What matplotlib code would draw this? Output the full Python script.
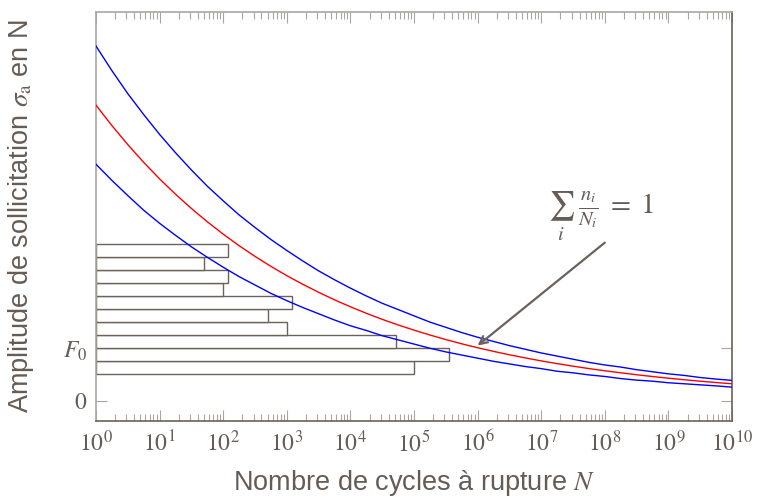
import numpy as np
import matplotlib.pyplot as plt
from matplotlib.ticker import LogLocator, NullFormatter, FixedLocator

plt.rcParams['mathtext.fontset'] = 'stix'
plt.rcParams['font.family'] = ['Liberation Sans', 'DejaVu Sans']

text_col = '#655c55'
dark_col = '#6b625a'
light_col = '#aaa5a0'

# Wöhler curves, every quarter decade from 10^0 to 10^10
decades = [i / 4 for i in range(41)]
red_curve = [5.650, 5.259, 4.895, 4.556, 4.240, 3.947, 3.674, 3.419, 3.183, 2.962,
             2.757, 2.566, 2.389, 2.224, 2.070, 1.926, 1.793, 1.669, 1.553, 1.446,
             1.346, 1.253, 1.166, 1.085, 1.010, 0.940, 0.875, 0.815, 0.758, 0.706,
             0.657, 0.611, 0.569, 0.530, 0.493, 0.459, 0.427, 0.397, 0.370, 0.344,
             0.320]
blue_upper = [6.78, 6.31, 5.87, 5.47, 5.09, 4.74, 4.41, 4.10, 3.82, 3.55,
              3.31, 3.08, 2.87, 2.67, 2.48, 2.31, 2.15, 2.00, 1.86, 1.74,
              1.62, 1.50, 1.40, 1.30, 1.21, 1.13, 1.05, 0.98, 0.91, 0.85,
              0.79, 0.73, 0.68, 0.64, 0.59, 0.55, 0.51, 0.48, 0.44, 0.41,
              0.385]
blue_lower = [4.52, 4.21, 3.92, 3.64, 3.39, 3.16, 2.94, 2.74, 2.55, 2.37,
              2.21, 2.05, 1.91, 1.78, 1.66, 1.54, 1.43, 1.34, 1.24, 1.16,
              1.08, 1.00, 0.93, 0.87, 0.81, 0.75, 0.70, 0.65, 0.61, 0.56,
              0.53, 0.49, 0.46, 0.42, 0.39, 0.37, 0.34, 0.32, 0.30, 0.28,
              0.256]

# load blocks (bottom to top): level and number of cycles
bar_levels = [0.625, 0.875, 1.125, 1.375, 1.625, 1.875, 2.125, 2.375, 2.625, 2.875]
bar_cycles = [100000, 360000, 52000, 1000, 500, 1200, 100, 119, 50, 119]
bar_height = 0.25

xticks = [1, 1e1, 1e2, 1e3, 1e4, 1e5, 1e6, 1e7, 1e8, 1e9, 1e10]
xticklabels = ['$10^{%d}$' % i for i in range(11)]
yticks = [0, 1]
yticklabels = ['$0$', '$F_0$']

fig = plt.figure(figsize=(7.57, 5.03), dpi=100)
ax = fig.add_axes([0.1268, 0.163, 0.8402, 0.813])

N = [10 ** d for d in decades]

ax.barh(bar_levels, [c - 1 for c in bar_cycles], height=bar_height, left=1,
        color='white', edgecolor=dark_col, linewidth=1.0, zorder=2)

ax.plot(N, blue_upper, color='#0000ff', lw=1.0, zorder=3)
ax.plot(N, red_curve, color='#ff0000', lw=1.0, zorder=3)
ax.plot(N, blue_lower, color='#0000ff', lw=1.0, zorder=3)

ax.annotate('', xy=(1.0e6, 1.05), xytext=(1e8, 3.02),
            arrowprops=dict(arrowstyle='->', color=dark_col, lw=1.6,
                            shrinkA=0, shrinkB=0, mutation_scale=14), zorder=4)
ax.text(1.3e7, 3.57, r'$\sum_i\ \frac{n_i}{N_i}\;=\;1$', fontsize=21,
        color=text_col, ha='left', va='baseline')

ax.set_xscale('log')
ax.set_xlim(1, 1e10)
ax.set_ylim(-0.392, 7.43)

ax.xaxis.set_major_locator(FixedLocator(xticks))
ax.set_xticklabels(xticklabels)
ax.xaxis.set_minor_locator(LogLocator(base=10, subs=np.arange(2, 10), numticks=100))
ax.xaxis.set_minor_formatter(NullFormatter())
ax.set_yticks(yticks)
ax.set_yticklabels(yticklabels)

ax.tick_params(which='major', direction='in', length=8, width=0.8, color=light_col,
               top=True, right=True, labelsize=17, labelcolor=text_col, pad=7)
ax.tick_params(which='minor', direction='in', length=5, width=0.8, color=light_col,
               top=True)
ax.tick_params(axis='y', which='major', pad=6)

for side in ['left', 'top']:
    ax.spines[side].set_color(light_col)
for side in ['bottom', 'right']:
    ax.spines[side].set_color(dark_col)
for s in ax.spines.values():
    s.set_linewidth(1.2)

ax.set_xlabel('Nombre de cycles à rupture $N$', fontsize=19.5, color=text_col, labelpad=8)
ax.set_ylabel(r'Amplitude de sollicitation $\sigma_\mathrm{a}$ en N', fontsize=19.5,
              color=text_col, labelpad=20)

fig.savefig('out.png', dpi=100)
